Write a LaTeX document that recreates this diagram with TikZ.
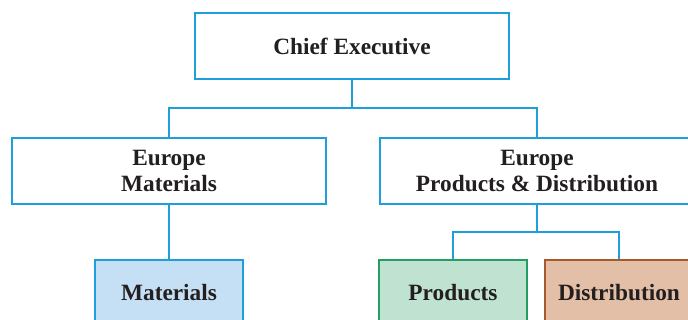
\documentclass[tikz,border=0pt]{standalone}
\usepackage{fontspec}
\setmainfont{Liberation Serif}
\usepackage{tikz}
\usetikzlibrary{positioning}

\definecolor{linkblue}{RGB}{30,159,219}
\definecolor{matfill}{RGB}{197,224,244}
\definecolor{prodfill}{RGB}{191,227,208}
\definecolor{prodline}{RGB}{34,160,100}
\definecolor{distfill}{RGB}{226,191,166}
\definecolor{distline}{RGB}{166,90,46}
\definecolor{inktext}{RGB}{35,31,32}

\begin{document}
\begin{tikzpicture}[
  line width=1.4pt,
  unit/.style={draw=linkblue,fill=white,rectangle,minimum width=7.85cm,minimum height=1.65cm,
    align=center,font=\fontsize{16.6}{18.4}\selectfont\bfseries,text=inktext},
  team/.style={rectangle,minimum width=3.7cm,minimum height=1.65cm,
    font=\fontsize{16.6}{18.4}\selectfont\bfseries,text=inktext}
]
  \useasboundingbox (0,0) rectangle (17.2,-8);
  \clip (0,0) rectangle (17.2,-8);

  % head
  \node[unit] (ceo) at (8.8,-1.15) {Chief Executive};

  % divisions
  \node[unit] (europemat) at (4.225,-4.275) {Europe\\Materials};
  \node[unit] (europepd) at (13.425,-4.275) {Europe\\Products \& Distribution};

  % teams
  \node[team,draw=linkblue,fill=matfill] (mat) at (4.225,-7.325) {Materials};
  \node[team,draw=prodline,fill=prodfill] (prod) at (11.325,-7.325) {Products};
  \node[team,draw=distline,fill=distfill] (dist) at (15.475,-7.325) {Distribution};

  % links
  \coordinate (topjoin) at (8.8,-2.7);
  \coordinate (pdjoin) at (13.425,-5.8);
  \draw[linkblue] (ceo) -- (topjoin);
  \draw[linkblue] (topjoin) -| (europemat);
  \draw[linkblue] (topjoin) -| (europepd);
  \draw[linkblue] (europemat) -- (mat);
  \draw[linkblue] (europepd) -- (pdjoin);
  \draw[linkblue] (pdjoin) -| (prod);
  \draw[linkblue] (pdjoin) -| (dist);
\end{tikzpicture}
\end{document}
